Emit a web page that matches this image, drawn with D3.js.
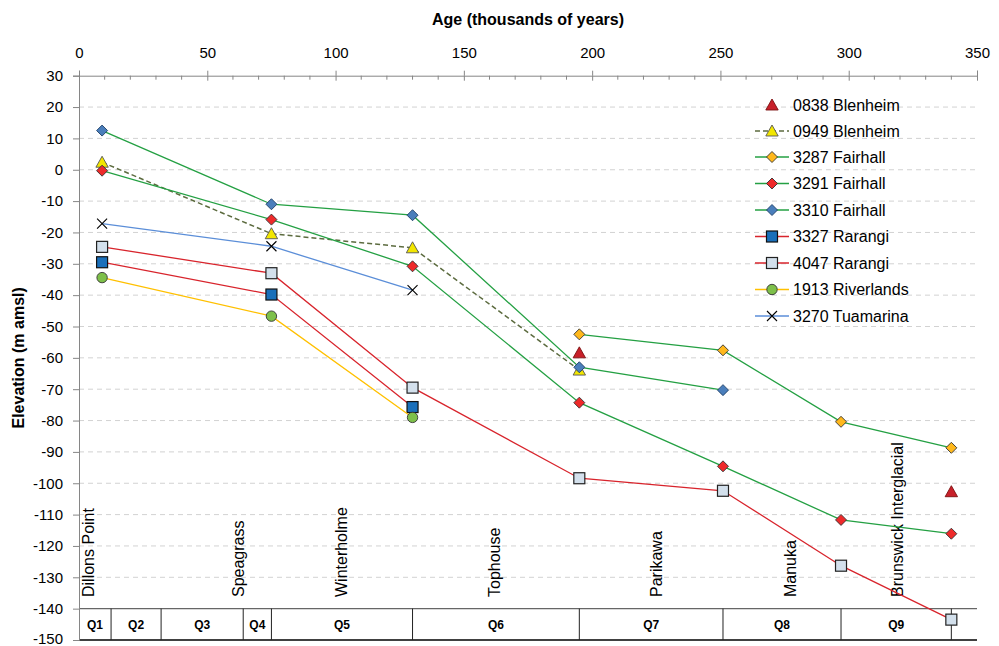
<!DOCTYPE html>
<html>
<head>
<meta charset="utf-8">
<script src="https://cdn.jsdelivr.net/npm/d3@7"></script>
<style>
  body { margin: 0; background: #fff; }
  text { font-family: "Liberation Sans", Arial, sans-serif; fill: #000; }
</style>
</head>
<body>
<div id="chart"></div>
<script>
// terrace ages (ka) and elevations (m amsl) by bore
var ages = [9, 75, 130, 195, 251, 297, 340];
var names = ["0838 Blenheim", "0949 Blenheim", "3287 Fairhall", "3291 Fairhall", "3310 Fairhall",
    "3327 Rarangi", "4047 Rarangi", "1913 Riverlands", "3270 Tuamarina"];
var v0838 = [null, null, null, -58.4, null, null, -102.7];
var v0949 = [2.4, -20.4, -24.9, -63.9, null, null, null];
var v3287 = [null, null, null, -52.5, -57.6, -80.4, -88.7];
var v3291 = [-0.3, -15.9, -30.8, -74.3, -94.6, -111.7, -116.1];
var v3310 = [12.5, -11, -14.5, -63, -70.3, null, null];
var v3327 = [-29.5, -39.8, -75.7, null, null, null, null];
var v4047 = [-24.6, -33, -69.5, -98.4, -102.4, -126.3, -143.5];
var v1913 = [-34.4, -46.7, -79, null, null, null, null];
var v3270 = [-17.2, -24.4, -38.4, null, null, null, null];
var values = [v0838, v0949, v3287, v3291, v3310, v3327, v4047, v1913, v3270];

// marine isotope stages
var stageNames = ["Q1", "Q2", "Q3", "Q4", "Q5", "Q6", "Q7", "Q8", "Q9", ""];
var stageEdges = [0, 12.5, 32, 64, 75, 130, 195, 251, 297, 340, 350];
var unitNames = ["Dillons Point", "Speagrass", "Winterholme", "Tophouse", "Parikawa", "Manuka", "Brunswick Interglacial"];
var unitAges = [5.8, 64.2, 104.5, 164, 227.2, 279.4, 321.2];

var xTicks = [0, 50, 100, 150, 200, 250, 300, 350];
var yTicks = d3.range(30, -151, -10);

// styles
var lineColor = [null, "#5c6b3f", "#24a043", "#24a043", "#24a043", "#d8242c", "#d8242c", "#ffc000", "#5b8ed8"];
var dashed = [false, true, false, false, false, false, false, false, false];
var marker = ["triangle", "triangle", "diamond", "diamond", "diamond", "square", "square", "circle", "cross"];
var fill = ["#c8202a", "#f2e600", "#ffb81c", "#ee2a2a", "#4a7ebb", "#1a6fba", "#d3e0ec", "#7ec04a", "none"];
var edge = ["#7a1010", "#555", "#333", "#333", "#1f3f66", "#111", "#222", "#333", "#000"];

var W = 999, H = 646;
var svg = d3.select("#chart").append("svg").attr("width", W).attr("height", H);

var x = d3.scaleLinear().domain([0, 350]).range([79, 977]);
var y = d3.scaleLinear().domain([-150, 30]).range([640, 75.7]);

// grid
svg.append("g").selectAll("line")
    .data(yTicks.filter(function (d) { return d < 30 && d > -140; }))
    .enter().append("line")
    .attr("x1", x(0)).attr("x2", x(350))
    .attr("y1", function (d) { return y(d); }).attr("y2", function (d) { return y(d); })
    .attr("stroke", "#d2d2d2").attr("stroke-dasharray", "5,4");

// stage band
var band = svg.append("g");
band.append("line").attr("x1", x(0)).attr("x2", x(350)).attr("y1", y(-140)).attr("y2", y(-140))
    .attr("stroke", "#666").attr("stroke-width", 1.3);
band.append("line").attr("x1", x(0)).attr("x2", x(350)).attr("y1", y(-150)).attr("y2", y(-150))
    .attr("stroke", "#000").attr("stroke-width", 1.3);
band.selectAll(".div").data(stageEdges.slice(1, -1)).enter().append("line")
    .attr("x1", function (d) { return x(d); }).attr("x2", function (d) { return x(d); })
    .attr("y1", y(-140)).attr("y2", y(-150)).attr("stroke", "#222");
band.selectAll(".ql").data(stageNames).enter().append("text")
    .attr("x", function (d, i) { return (x(stageEdges[i]) + x(stageEdges[i + 1])) / 2; })
    .attr("y", (y(-140) + y(-150)) / 2).attr("dy", "0.36em")
    .attr("text-anchor", "middle").style("font-size", "12px").style("font-weight", "bold")
    .text(function (d) { return d; });

// unit labels
svg.append("g").selectAll("text").data(unitNames).enter().append("text")
    .attr("transform", function (d, i) { return "translate(" + x(unitAges[i]) + ",597) rotate(-90)"; })
    .style("font-size", "16px").text(function (d) { return d; });

// axes
var xAxisG = svg.append("g").attr("transform", "translate(0," + y(30) + ")")
    .call(d3.axisTop(x).tickValues(xTicks).tickSize(5).tickPadding(12.5).tickFormat(d3.format("d")));
xAxisG.selectAll(".tick line").attr("y2", -5).clone().attr("y2", 5);
svg.append("g").attr("transform", "translate(0," + y(30) + ")").selectAll("line")
    .data(d3.range(0, 351, 10).filter(function (d) { return d % 50 !== 0; }))
    .enter().append("line")
    .attr("x1", function (d) { return x(d); }).attr("x2", function (d) { return x(d); })
    .attr("y1", 0).attr("y2", 4).attr("stroke", "#868686");

var yAxisG = svg.append("g").attr("transform", "translate(" + x(0) + ",0)")
    .call(d3.axisLeft(y).tickValues(yTicks).tickSize(6).tickPadding(10)
        .tickFormat(function (d) { return String(d); }));
[xAxisG, yAxisG].forEach(function (g) {
    g.select(".domain").attr("stroke", "#868686");
    g.selectAll(".tick line").attr("stroke", "#868686");
    g.selectAll("text").attr("fill", "#000")
        .style("font-family", "'Liberation Sans', Arial, sans-serif").style("font-size", "15px");
});
// keep the lowest label inside the frame
yAxisG.selectAll(".tick text").filter(function (d) { return d === -150; }).attr("dy", "0.2em");

svg.append("text").attr("x", (x(0) + x(350)) / 2).attr("y", 25).attr("text-anchor", "middle")
    .style("font-size", "16px").style("font-weight", "bold").text("Age (thousands of years)");
svg.append("text").attr("transform", "translate(24," + (y(30) + y(-150)) / 2 + ") rotate(-90)")
    .attr("text-anchor", "middle").style("font-size", "16px").style("font-weight", "bold")
    .text("Elevation (m amsl)");

function drawMarker(g, type, cx, cy, f, s) {
    if (type == "diamond") {
        g.append("path").attr("d", "M" + cx + "," + (cy - 5.5) + "L" + (cx + 5.5) + "," + cy + "L" + cx + "," + (cy + 5.5) + "L" + (cx - 5.5) + "," + cy + "Z")
            .attr("fill", f).attr("stroke", s).attr("stroke-width", 0.9);
    } else if (type == "square") {
        g.append("rect").attr("x", cx - 5.5).attr("y", cy - 5.5).attr("width", 11).attr("height", 11)
            .attr("fill", f).attr("stroke", s).attr("stroke-width", 1.2);
    } else if (type == "circle") {
        g.append("circle").attr("cx", cx).attr("cy", cy).attr("r", 5.2)
            .attr("fill", f).attr("stroke", s).attr("stroke-width", 0.9);
    } else if (type == "triangle") {
        g.append("path").attr("d", "M" + cx + "," + (cy - 6) + "L" + (cx + 6.2) + "," + (cy + 5) + "L" + (cx - 6.2) + "," + (cy + 5) + "Z")
            .attr("fill", f).attr("stroke", s).attr("stroke-width", 0.9);
    } else if (type == "cross") {
        g.append("path").attr("d", "M" + (cx - 5) + "," + (cy - 5) + "L" + (cx + 5) + "," + (cy + 5) + "M" + (cx + 5) + "," + (cy - 5) + "L" + (cx - 5) + "," + (cy + 5))
            .attr("stroke", s).attr("stroke-width", 1.1);
    }
}

var line = d3.line()
    .defined(function (d) { return d[1] !== null; })
    .x(function (d) { return x(d[0]); })
    .y(function (d) { return y(d[1]); });

values.forEach(function (vals, i) {
    var pts = ages.map(function (a, j) { return [a, vals[j]]; });
    var g = svg.append("g");
    if (lineColor[i]) {
        g.append("path").datum(pts.filter(function (p) { return p[1] !== null; }))
            .attr("d", line).attr("fill", "none").attr("stroke", lineColor[i])
            .attr("stroke-width", dashed[i] ? 1.5 : 1.3)
            .attr("stroke-dasharray", dashed[i] ? "5,3" : null);
    }
    pts.filter(function (p) { return p[1] !== null; }).forEach(function (p) {
        drawMarker(g, marker[i], x(p[0]), y(p[1]), fill[i], edge[i]);
    });
});

// legend
var legY = [105, 131, 157, 183.5, 210, 236.5, 263, 289.5, 316];
var leg = svg.append("g");
names.forEach(function (n, i) {
    var ly = legY[i];
    if (lineColor[i]) {
        leg.append("line").attr("x1", 755).attr("x2", 789).attr("y1", ly).attr("y2", ly)
            .attr("stroke", lineColor[i]).attr("stroke-width", 1.4)
            .attr("stroke-dasharray", dashed[i] ? "5,3" : null);
    }
    drawMarker(leg, marker[i], 772, ly, fill[i], edge[i]);
    leg.append("text").attr("x", 793).attr("y", ly).attr("dy", "0.36em")
        .style("font-size", "16px").text(n);
});
</script>
</body>
</html>
